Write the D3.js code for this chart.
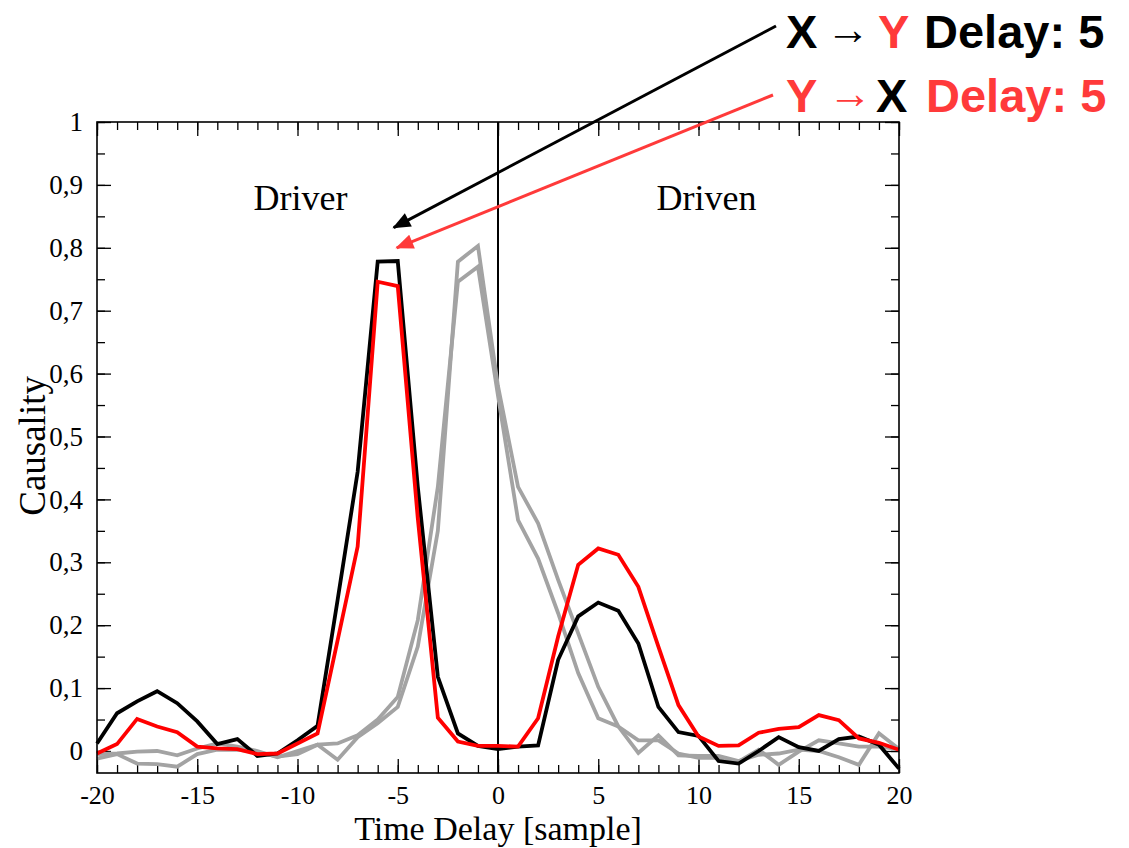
<!DOCTYPE html>
<html>
<head>
<meta charset="utf-8">
<script src="https://cdn.jsdelivr.net/npm/d3@7"></script>
<style>
html,body{margin:0;padding:0;background:#fff;}
svg{display:block;}
</style>
</head>
<body>
<svg id="chart" width="1129" height="848"></svg>
<script>
// ---- data ----
const delays = d3.range(-20, 21);
const xToY = [0.012,0.060,0.079,0.095,0.076,0.047,0.011,0.019,-0.008,-0.004,0.017,0.040,0.24,0.444,0.778,0.779,0.42,0.118,0.028,0.008,0.003,0.007,0.009,0.145,0.214,0.236,0.223,0.171,0.070,0.030,0.024,-0.016,-0.020,0.000,0.022,0.006,0.000,0.019,0.023,0.010,-0.028];
const yToX = [-0.004,0.011,0.051,0.039,0.030,0.007,0.004,0.003,-0.005,-0.004,0.012,0.028,0.176,0.325,0.746,0.739,0.37,0.053,0.015,0.008,0.008,0.007,0.052,0.182,0.296,0.322,0.312,0.261,0.166,0.073,0.023,0.008,0.009,0.029,0.035,0.038,0.057,0.049,0.020,0.013,0.002];
const grayA = [-0.012,-0.005,-0.020,-0.021,-0.025,-0.005,0.002,0.002,-0.002,-0.009,-0.005,0.010,-0.014,0.022,0.044,0.070,0.166,0.35,0.778,0.803,0.58,0.42,0.362,0.272,0.187,0.102,0.039,0.017,0.017,-0.004,-0.011,-0.011,-0.017,0.002,-0.022,-0.001,0.017,0.012,0.007,0.007,0.003];
const grayB = [-0.005,-0.004,-0.001,0.000,-0.007,0.004,0.012,0.007,0.000,-0.010,0.000,0.010,0.012,0.025,0.050,0.086,0.208,0.42,0.746,0.770,0.565,0.367,0.306,0.219,0.124,0.052,0.039,-0.003,0.025,-0.007,-0.008,-0.008,-0.016,-0.006,-0.004,0.002,0.000,-0.010,-0.022,0.028,0.003];
const xTicks = [-20,-15,-10,-5,0,5,10,15,20];
const yTicks = [0,0.1,0.2,0.3,0.4,0.5,0.6,0.7,0.8,0.9,1];
const regionLabels = ["Driver","Driven"];
const xLabel = "Time Delay [sample]";
const yLabel = "Causality";

// ---- layout ----
const L = 97, R = 899, T = 122, B = 773;
const svg = d3.select("#chart");
const x = d3.scaleLinear().domain([-20, 20]).range([L, R]);
const y = d3.scaleLinear().domain([-0.035, 1]).range([B, T]);
const serif = "'Liberation Serif','Times New Roman',serif";
const sans = "'Liberation Sans',Arial,sans-serif";
const RED = "#ff0000", ARED = "#ff3a3a", GRAY = "#a3a3a3";

svg.append("rect").attr("width",1129).attr("height",848).attr("fill","#fff");

const yFmt = d => d === 0 ? "0" : d === 1 ? "1" : d3.format(".1f")(d).replace(".", ",");
const xFmt = d => String(d);
const xMinor = d3.range(-20, 21, 1);
const yMinor = d3.range(0, 1.0001, 0.05).map(v => +v.toFixed(2));

function cleanAxis(g){ g.select(".domain").remove(); g.selectAll("line").attr("stroke","#000").attr("stroke-width",1.3); }

// bottom
svg.append("g").attr("transform",`translate(0,${B})`)
  .call(d3.axisBottom(x).tickValues(xMinor).tickSize(-8).tickFormat(""))
  .call(cleanAxis);
svg.append("g").attr("transform",`translate(0,${B})`)
  .call(d3.axisBottom(x).tickValues(xTicks).tickSize(-14).tickPadding(13).tickFormat(xFmt))
  .call(cleanAxis)
  .call(g => g.selectAll("text").attr("font-family",serif).attr("font-size",26).attr("fill","#000"));
// top
svg.append("g").attr("transform",`translate(0,${T})`)
  .call(d3.axisTop(x).tickValues(xMinor).tickSize(-8).tickFormat("")).call(cleanAxis);
svg.append("g").attr("transform",`translate(0,${T})`)
  .call(d3.axisTop(x).tickValues(xTicks).tickSize(-14).tickFormat("")).call(cleanAxis);
// left
svg.append("g").attr("transform",`translate(${L},0)`)
  .call(d3.axisLeft(y).tickValues(yMinor).tickSize(-8).tickFormat("")).call(cleanAxis);
svg.append("g").attr("transform",`translate(${L},0)`)
  .call(d3.axisLeft(y).tickValues(yTicks).tickSize(-14).tickPadding(14).tickFormat(yFmt))
  .call(cleanAxis)
  .call(g => g.selectAll("text").attr("font-family",serif).attr("font-size",27).attr("fill","#000"));
// right
svg.append("g").attr("transform",`translate(${R},0)`)
  .call(d3.axisRight(y).tickValues(yMinor).tickSize(-8).tickFormat("")).call(cleanAxis);
svg.append("g").attr("transform",`translate(${R},0)`)
  .call(d3.axisRight(y).tickValues(yTicks).tickSize(-14).tickFormat("")).call(cleanAxis);

// zero vertical line
svg.append("line").attr("x1",x(0)).attr("x2",x(0)).attr("y1",T).attr("y2",B)
  .attr("stroke","#000").attr("stroke-width",2);

// lines
const line = arr => d3.line().x((d,i)=>x(delays[i])).y(d=>y(d))(arr);
[[grayA,GRAY],[grayB,GRAY],[xToY,"#000"],[yToX,RED]].forEach(([arr,c])=>{
  svg.append("path").attr("d",line(arr)).attr("fill","none").attr("stroke",c)
    .attr("stroke-width",3.8).attr("stroke-linejoin","miter");
});

// frame
svg.append("rect").attr("x",L).attr("y",T).attr("width",R-L).attr("height",B-T)
  .attr("fill","none").attr("stroke","#000").attr("stroke-width",1.6);

// region labels
svg.append("text").attr("x",x(-9.85)).attr("y",210).attr("text-anchor","middle")
  .attr("font-family",serif).attr("font-size",36).text(regionLabels[0]);
svg.append("text").attr("x",x(10.4)).attr("y",210).attr("text-anchor","middle")
  .attr("font-family",serif).attr("font-size",36).text(regionLabels[1]);

// axis titles
svg.append("text").attr("x",x(0)).attr("y",840).attr("text-anchor","middle")
  .attr("font-family",serif).attr("font-size",34).text(xLabel);
svg.append("text").attr("transform",`translate(45,${y(0.485)}) rotate(-90)`).attr("text-anchor","middle")
  .attr("font-family",serif).attr("font-size",37).text(yLabel);

// arrows
const defs = svg.append("defs");
function marker(id,color){
  defs.append("marker").attr("id",id).attr("viewBox","0 0 12 10").attr("refX",11).attr("refY",5)
    .attr("markerWidth",7).attr("markerHeight",5).attr("markerUnits","strokeWidth").attr("orient","auto")
    .append("path").attr("d","M0,0 L12,5 L0,10 z").attr("fill",color);
}
marker("ab","#000"); marker("ar",ARED);
svg.append("line").attr("x1",776).attr("y1",26).attr("x2",x(-5.2)).attr("y2",y(0.832))
  .attr("stroke","#000").attr("stroke-width",3).attr("marker-end","url(#ab)");
svg.append("line").attr("x1",773).attr("y1",95).attr("x2",x(-5.05)).attr("y2",y(0.80))
  .attr("stroke",ARED).attr("stroke-width",3).attr("marker-end","url(#ar)");

// annotation text
function annot(yb, parts){
  const t = svg.append("text").attr("y",yb).attr("font-family",sans).attr("font-weight","bold").attr("font-size",47);
  parts.forEach(p=>{
    t.append("tspan").attr("x",p.x).attr("fill",p.c).attr("font-size",p.s||47)
      .attr("font-weight",p.w||"bold").attr("dy",p.dy||0).text(p.t);
  });
}
annot(48,[{x:786,t:"X",c:"#000"},{x:826,t:"\u2192",c:"#000",s:44,w:"normal",dy:-4},{x:878,t:"Y",c:ARED,dy:4},{x:924,t:"Delay: 5",c:"#000"}]);
annot(112,[{x:786,t:"Y",c:ARED},{x:828,t:"\u2192",c:ARED,s:44,w:"normal",dy:-4},{x:876,t:"X",c:"#000",dy:4},{x:926,t:"Delay: 5",c:ARED}]);
</script>
</body>
</html>
